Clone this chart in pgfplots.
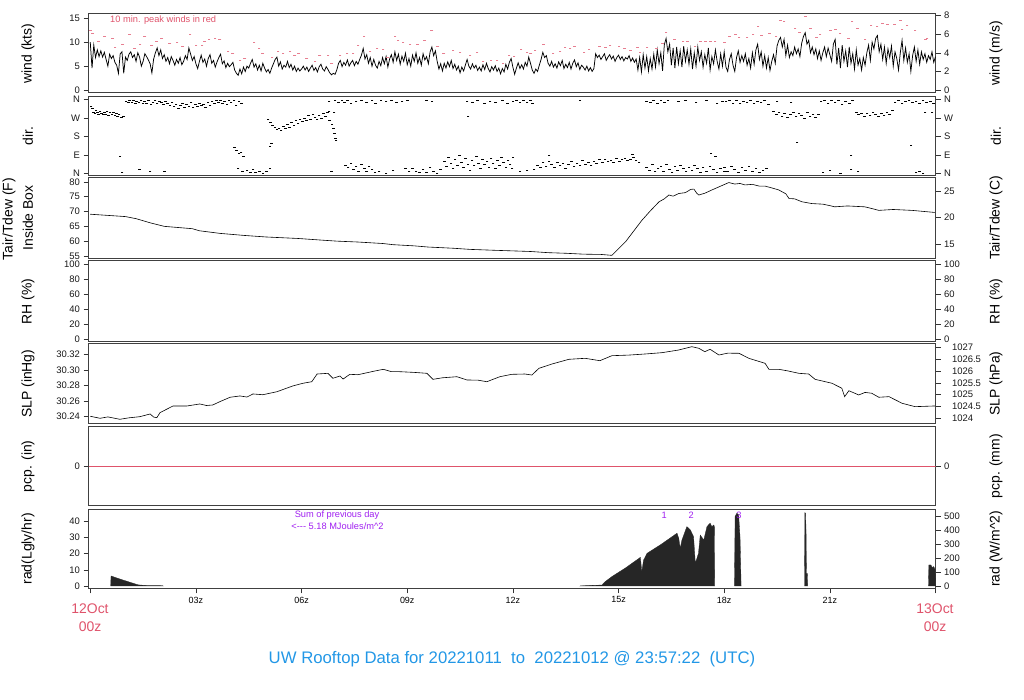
\documentclass[border=0pt]{standalone}
\usepackage{pgfplots}
\pgfplotsset{compat=1.18}
\usepackage{fontspec}
\setmainfont{Liberation Sans}
\definecolor{rred}{HTML}{DF536B}
\definecolor{rblue}{HTML}{2297E6}
\definecolor{rpurple}{HTML}{A020F0}
\newcommand{\lab}{\fontsize{14}{16}\selectfont}
\newcommand{\sm}{\fontsize{9.3}{10}\selectfont}
\pgfplotsset{
  panel/.style={scale only axis, width=847bp, xmin=-0.05, xmax=24,
    anchor=south west, axis line style={black!75, line width=1bp},
    tick align=outside, major tick length=5bp,
    every tick/.style={black!80, line width=0.6bp},
    xtick=\empty, ytick pos=left,
    yticklabel style={font=\fontsize{9.5}{10}\selectfont, black!90}},
  rpanel/.style={scale only axis, width=847bp, xmin=-0.05, xmax=24,
    anchor=south west, hide x axis, axis y line*=right,
    y axis line style={draw=none},
    tick align=outside, major tick length=5bp,
    every tick/.style={black!80, line width=0.6bp},
    yticklabel style={font=\fontsize{9.5}{10}\selectfont, black!90}},
}
\begin{document}
\begin{tikzpicture}[x=1bp,y=1bp]
\useasboundingbox (0,0) rectangle (1024,700);

% ---- wind
\begin{axis}[panel, at={(88.5bp,607bp)}, height=79bp, ymin=-0.6, ymax=15.9,
  ytick={0,5,10,15}, yticklabels={0,5,10,15}]
\addplot[black, line width=0.75bp] coordinates {
(0.00,10.0)(0.05,4.6)(0.10,9.4)(0.15,6.8)(0.20,8.4)(0.25,7.0)(0.30,8.2)(0.35,6.9)(0.40,7.9)(0.45,6.4)
(0.50,5.0)(0.55,7.5)(0.60,6.6)(0.65,7.2)(0.70,5.8)(0.75,5.2)(0.80,3.5)(0.85,7.6)(0.90,8.0)(0.95,3.5)
(1.00,6.9)(1.05,6.2)(1.10,7.5)(1.15,8.0)(1.20,6.8)(1.25,7.4)(1.30,6.0)(1.35,7.8)(1.40,6.9)(1.45,5.0)
(1.50,6.0)(1.55,7.6)(1.60,7.0)(1.65,6.3)(1.70,5.5)(1.75,3.6)(1.80,6.5)(1.85,7.8)(1.90,8.8)(1.95,7.2)
(2.00,8.4)(2.05,6.6)(2.10,7.4)(2.15,6.0)(2.20,6.8)(2.25,5.5)(2.30,7.0)(2.35,6.2)(2.40,5.2)(2.45,6.4)
(2.50,5.6)(2.55,6.8)(2.60,5.3)(2.65,6.0)(2.70,7.2)(2.75,6.4)(2.80,8.8)(2.85,7.5)(2.90,6.2)(2.95,7.0)
(3.00,5.5)(3.05,4.5)(3.10,6.0)(3.15,7.3)(3.20,5.8)(3.25,6.5)(3.30,5.0)(3.35,6.6)(3.40,7.4)(3.45,5.6)
(3.50,6.2)(3.55,4.8)(3.60,5.9)(3.65,6.8)(3.70,7.5)(3.75,5.5)(3.80,6.1)(3.85,4.7)(3.90,5.6)(3.95,4.9)
(4.00,5.3)(4.05,5.8)(4.10,4.2)(4.15,3.5)(4.20,3.1)(4.25,4.4)(4.30,3.4)(4.35,4.8)(4.40,3.9)(4.45,5.0)
(4.50,4.6)(4.55,5.6)(4.60,6.4)(4.65,4.8)(4.70,5.5)(4.75,4.2)(4.80,5.2)(4.85,4.0)(4.90,5.6)(4.95,4.6)
(5.00,3.8)(5.05,4.3)(5.10,3.5)(5.15,4.6)(5.20,5.5)(5.25,6.4)(5.30,6.9)(5.35,5.0)(5.40,5.9)(5.45,4.4)
(5.50,5.2)(5.55,4.8)(5.60,6.0)(5.65,4.7)(5.70,5.4)(5.75,4.2)(5.80,5.0)(5.85,3.9)(5.90,4.6)(5.95,4.0)
(6.00,4.4)(6.05,5.0)(6.10,4.2)(6.15,4.8)(6.20,3.9)(6.25,4.6)(6.30,5.2)(6.35,4.1)(6.40,4.7)(6.45,3.8)
(6.50,4.9)(6.55,5.4)(6.60,4.4)(6.65,4.0)(6.70,4.9)(6.75,4.3)(6.80,3.6)(6.85,3.2)(6.90,3.5)(6.95,3.3)
(7.00,4.2)(7.05,5.6)(7.10,6.2)(7.15,4.9)(7.20,5.8)(7.25,5.2)(7.30,6.3)(7.35,5.0)(7.40,5.7)(7.45,6.2)
(7.50,5.1)(7.55,6.0)(7.60,5.4)(7.65,6.4)(7.70,7.3)(7.75,8.7)(7.80,6.5)(7.85,7.4)(7.90,5.6)(7.95,6.8)
(8.00,5.0)(8.05,6.4)(8.10,5.2)(8.15,4.6)(8.20,6.0)(8.25,5.1)(8.30,6.8)(8.35,5.5)(8.40,7.0)(8.45,4.8)
(8.50,6.5)(8.55,7.4)(8.60,5.8)(8.65,8.0)(8.70,6.2)(8.75,7.5)(8.80,5.4)(8.85,7.1)(8.90,6.0)(8.95,7.7)
(9.00,5.3)(9.05,6.6)(9.10,5.0)(9.15,7.3)(9.20,6.0)(9.25,7.8)(9.30,5.6)(9.35,6.8)(9.40,5.2)(9.45,7.6)
(9.50,6.3)(9.55,7.0)(9.60,5.5)(9.65,8.0)(9.70,9.0)(9.75,7.2)(9.80,8.2)(9.85,6.0)(9.90,4.4)(9.95,5.5)
(10.00,4.0)(10.05,5.6)(10.10,4.6)(10.15,5.9)(10.20,4.9)(10.25,6.2)(10.30,4.5)(10.35,5.4)(10.40,4.2)(10.45,5.0)
(10.50,3.6)(10.55,4.8)(10.60,4.0)(10.65,5.2)(10.70,6.4)(10.75,5.0)(10.80,4.4)(10.85,5.5)(10.90,4.6)(10.95,5.2)
(11.00,4.1)(11.05,4.8)(11.10,4.0)(11.15,5.3)(11.20,4.3)(11.25,5.6)(11.30,4.5)(11.35,3.8)(11.40,4.9)(11.45,4.2)
(11.50,5.1)(11.55,3.9)(11.60,4.6)(11.65,3.4)(11.70,4.5)(11.75,3.8)(11.80,5.4)(11.85,4.4)(11.90,5.8)(11.95,6.6)
(12.00,4.8)(12.05,3.3)(12.10,4.6)(12.15,5.7)(12.20,4.5)(12.25,5.3)(12.30,4.4)(12.35,5.8)(12.40,5.0)(12.45,6.9)
(12.50,5.6)(12.55,4.2)(12.60,3.5)(12.65,4.4)(12.70,3.9)(12.75,5.2)(12.80,6.4)(12.85,7.9)(12.90,6.8)(12.95,7.2)
(13.00,5.6)(13.05,5.0)(13.10,6.0)(13.15,4.8)(13.20,5.5)(13.25,4.6)(13.30,5.9)(13.35,5.1)(13.40,6.2)(13.45,4.5)
(13.50,5.4)(13.55,4.7)(13.60,5.8)(13.65,4.4)(13.70,5.6)(13.75,6.3)(13.80,4.9)(13.85,5.7)(13.90,4.3)(13.95,5.2)
(14.00,4.8)(14.05,4.2)(14.10,5.0)(14.15,4.0)(14.20,4.7)(14.25,3.9)(14.30,4.5)(14.35,7.6)(14.40,6.8)(14.45,7.3)
(14.50,6.4)(14.55,7.0)(14.60,7.6)(14.65,6.2)(14.70,6.9)(14.75,7.4)(14.80,6.5)(14.85,7.1)(14.90,6.0)(14.95,6.8)
(15.00,7.3)(15.05,6.4)(15.10,7.0)(15.15,6.1)(15.20,6.8)(15.25,6.5)(15.30,7.2)(15.35,6.0)(15.40,6.7)(15.45,5.8)
(15.50,6.5)(15.55,4.2)(15.60,6.8)(15.65,3.8)(15.70,7.4)(15.75,4.6)(15.80,7.0)(15.85,4.0)(15.90,6.6)(15.95,4.4)
(16.00,7.5)(16.05,4.8)(16.10,8.4)(16.15,5.5)(16.20,7.8)(16.25,4.0)(16.30,9.5)(16.35,10.8)(16.40,8.0)(16.45,9.6)
(16.50,5.2)(16.55,8.8)(16.60,4.6)(16.65,9.0)(16.70,5.5)(16.75,8.2)(16.80,4.8)(16.85,9.2)(16.90,6.0)(16.95,8.4)
(17.00,5.4)(17.05,8.6)(17.10,4.4)(17.15,7.8)(17.20,5.0)(17.25,9.0)(17.30,6.2)(17.35,8.0)(17.40,4.8)(17.45,7.4)
(17.50,5.6)(17.55,8.8)(17.60,4.2)(17.65,7.0)(17.70,5.5)(17.75,8.4)(17.80,6.0)(17.85,4.4)(17.90,7.6)(17.95,5.0)
(18.00,8.0)(18.05,4.8)(18.10,3.9)(18.15,6.4)(18.20,7.6)(18.25,5.2)(18.30,3.9)(18.35,6.8)(18.40,8.2)(18.45,5.8)
(18.50,7.2)(18.55,6.0)(18.60,7.6)(18.65,5.2)(18.70,6.6)(18.75,4.6)(18.80,7.8)(18.85,5.4)(18.90,8.4)(18.95,9.6)
(19.00,6.4)(19.05,8.0)(19.10,5.0)(19.15,7.2)(19.20,4.6)(19.25,6.8)(19.30,4.1)(19.35,6.0)(19.40,7.4)(19.45,5.6)
(19.50,9.2)(19.55,10.4)(19.60,11.0)(19.65,9.0)(19.70,10.6)(19.75,7.2)(19.80,9.4)(19.85,6.8)(19.90,8.0)(19.95,7.2)
(20.00,9.0)(20.05,7.6)(20.10,8.6)(20.15,7.0)(20.20,9.8)(20.25,11.2)(20.30,12.0)(20.35,9.6)(20.40,10.4)(20.45,7.8)
(20.50,9.0)(20.55,7.4)(20.60,8.6)(20.65,6.6)(20.70,8.2)(20.75,6.2)(20.80,7.8)(20.85,9.0)(20.90,7.0)(20.95,8.8)
(21.00,7.4)(21.05,6.0)(21.10,9.6)(21.15,10.6)(21.20,5.4)(21.25,8.8)(21.30,4.6)(21.35,9.4)(21.40,6.0)(21.45,8.2)
(21.50,4.8)(21.55,9.0)(21.60,5.6)(21.65,7.6)(21.70,4.4)(21.75,8.4)(21.80,5.2)(21.85,6.6)(21.90,4.2)(21.95,6.8)
(22.00,5.2)(22.05,7.8)(22.10,9.4)(22.15,6.2)(22.20,10.0)(22.25,8.6)(22.30,10.8)(22.35,11.4)(22.40,8.0)(22.45,9.6)
(22.50,6.4)(22.55,9.0)(22.60,5.6)(22.65,8.6)(22.70,6.8)(22.75,9.2)(22.80,5.0)(22.85,8.0)(22.90,6.6)(22.95,4.2)
(23.00,7.8)(23.05,10.4)(23.10,6.2)(23.15,8.8)(23.20,5.8)(23.25,7.6)(23.30,3.9)(23.35,7.2)(23.40,9.0)(23.45,6.0)
(23.50,8.4)(23.55,5.4)(23.60,8.0)(23.65,6.4)(23.70,7.6)(23.75,5.8)(23.80,7.2)(23.85,6.4)(23.90,8.0)(23.95,5.8)
(24.00,7.0)};
\addplot[only marks, mark=-, mark size=1.4bp, rred!75, mark options={line width=0.55bp}] coordinates {
(0.00,12.5)(0.07,11.9)(0.24,10.2)(0.41,11.3)(0.64,10.8)(0.70,9.0)(0.92,9.6)(1.12,11.7)(1.26,8.7)(1.41,9.6)
(1.55,11.3)(1.75,9.4)(1.89,10.3)(2.03,10.8)(2.26,9.8)(2.46,10.0)(2.63,9.1)(2.83,11.7)(3.00,9.4)(3.17,9.4)
(3.25,10.2)(3.37,10.6)(3.54,10.8)(3.68,10.6)(3.91,8.1)(4.05,7.6)(4.25,6.3)(4.39,6.7)(4.65,10.0)(4.79,8.7)
(4.90,7.7)(5.16,6.9)(5.33,8.1)(5.47,7.7)(5.67,8.1)(5.81,7.2)(5.92,7.7)(6.15,6.7)(6.38,6.0)(6.52,7.2)
(6.75,7.2)(6.86,5.6)(7.09,7.2)(7.29,7.7)(7.46,7.7)(7.60,9.4)(7.77,11.3)(7.94,8.1)(8.14,8.7)(8.31,8.5)
(8.45,6.9)(8.65,11.3)(8.74,10.4)(8.88,10.0)(9.08,9.6)(9.30,9.6)(9.50,10.4)(9.70,12.5)(9.87,9.1)(10.04,7.6)
(10.30,8.3)(10.50,8.0)(10.78,7.2)(10.98,7.9)(11.15,6.0)(11.38,6.2)(11.55,6.3)(11.72,5.6)(11.89,7.2)
(12.03,7.0)(12.23,8.5)(12.40,7.9)(12.51,7.7)(12.63,8.3)(12.86,9.6)(13.14,7.6)(13.34,8.2)(13.48,8.9)(13.62,8.7)
(13.74,9.1)(14.02,7.9)(14.16,8.5)(14.45,9.1)(14.62,9.0)(14.76,9.3)(15.01,9.1)(15.16,8.7)(15.33,8.4)(15.53,8.9)
(15.61,7.9)(15.81,8.9)(16.07,8.7)(16.24,9.8)(16.35,12.1)(16.58,10.6)(16.83,10.3)(16.95,10.1)(17.17,9.2)(17.32,10.1)
(17.46,10.3)(17.60,10.3)(17.74,10.3)(18.00,10.0)(18.14,11.3)(18.31,11.7)(18.42,11.0)(18.65,11.0)(18.82,11.7)(18.96,13.4)
(19.05,11.4)(19.28,11.9)(19.47,11.3)(19.59,14.5)(19.70,14.3)(20.01,12.9)(20.13,12.1)(20.30,15.4)(20.44,12.9)(20.61,11.0)
(20.72,11.7)(21.01,12.4)(21.15,12.7)(21.29,11.9)(21.52,10.8)(21.63,14.3)(21.78,12.9)(22.00,10.7)(22.17,13.6)(22.34,13.4)
(22.49,14.0)(22.63,13.8)(22.83,13.8)(23.00,14.5)(23.05,12.7)(23.19,13.6)(23.42,12.4)(23.71,10.7)(23.76,10.8)};
\end{axis}
\begin{axis}[rpanel, at={(88.5bp,607bp)}, height=79bp, ymin=-0.31, ymax=8.18,
  ytick={0,2,4,6,8}, yticklabels={0,2,4,6,8}]
\end{axis}
\node[anchor=west, rred, font=\sm] at (106.7,680) {10 min. peak winds in red};

% ---- direction
\begin{axis}[panel, at={(88.5bp,524.3bp)}, height=79bp, ymin=-12, ymax=374,
  ytick={0,90,180,270,360}, yticklabels={N,E,S,W,N}]
\addplot[only marks, mark=-, mark size=1.3bp, black, mark options={line width=0.5bp}] coordinates {
(0.02,325)(0.06,318)(0.10,300)(0.13,292)(0.16,310)(0.20,296)(0.24,288)(0.28,302)(0.32,294)(0.36,286)
(0.40,298)(0.44,290)(0.48,305)(0.52,284)(0.56,296)(0.62,290)(0.66,300)(0.70,282)(0.74,294)(0.78,278)
(0.82,286)(0.88,272)(0.95,280)(0.84,84)(0.90,5)(1.40,20)(1.70,8)(2.10,12)
(1.02,352)(1.08,345)(1.12,356)(1.18,348)(1.22,358)(1.28,342)(1.32,352)(1.38,346)(1.44,356)(1.50,340)
(1.54,350)(1.60,344)(1.66,355)(1.72,338)(1.78,348)(1.84,358)(1.90,342)(1.96,352)(2.02,346)(2.08,336)
(2.14,354)(2.20,340)(2.26,332)(2.32,345)(2.38,325)(2.44,338)(2.50,318)(2.56,330)(2.62,342)(2.68,322)
(2.74,335)(2.80,328)(2.86,346)(2.92,320)(2.98,336)(3.04,326)(3.10,344)(3.16,330)(3.22,338)(3.28,322)
(3.34,348)(3.40,334)(3.46,352)(3.52,340)(3.58,356)(3.64,346)(3.70,358)(3.76,344)(3.82,352)(3.88,338)
(3.94,356)(4.00,348)(4.08,358)(4.14,330)(4.22,352)(4.30,342)
(4.10,128)(4.15,112)(4.22,96)(4.28,104)(4.35,84)
(4.20,22)(4.32,8)(4.45,15)(4.55,4)(4.62,18)(4.70,6)(4.80,12)(4.90,2)(5.00,10)(5.10,26)
(5.10,131)(5.14,146)
(5.05,262)(5.12,248)(5.18,236)(5.24,226)(5.30,214)(5.36,222)(5.42,208)(5.48,230)(5.54,218)(5.60,240)
(5.66,226)(5.72,250)(5.78,236)(5.84,258)(5.90,244)(5.96,264)(6.02,252)(6.08,270)(6.14,258)(6.20,282)
(6.26,266)(6.32,290)(6.38,274)(6.44,262)(6.50,284)(6.56,270)(6.62,292)(6.68,278)(6.74,296)(6.80,260)
(6.86,240)(6.90,220)(6.93,196)(6.96,172)(6.98,160)
(6.78,352)(6.95,358)(7.05,345)(7.15,355)(7.22,348)(7.30,358)(7.40,340)(7.55,352)(7.70,356)(7.85,348)
(8.00,358)(8.10,344)(8.25,355)(8.40,350)(8.55,358)(8.70,346)(8.85,354)(9.00,358)(6.78,305)(6.92,300)
(6.85,8)(7.25,40)(7.32,28)(7.40,50)(7.48,20)(7.55,36)(7.62,12)(7.70,44)(7.78,25)(7.85,8)(7.92,32)(8.00,18)(8.08,4)
(8.20,10)(8.40,2)(8.60,14)
(8.95,22)(9.05,8)(9.15,26)(9.25,12)(9.35,4)(9.45,18)(9.55,6)(9.65,28)(9.75,10)(9.85,2)(9.95,20)
(10.05,60)(10.12,35)(10.18,80)(10.24,48)(10.30,22)(10.36,66)(10.42,40)(10.48,90)(10.54,55)(10.60,30)
(10.66,72)(10.72,45)(10.78,15)(10.84,62)(10.90,38)(10.96,84)(11.02,50)(11.08,25)(11.14,70)
(11.20,42)(11.26,60)(11.32,30)(11.38,75)(11.44,50)(11.50,22)(11.56,65)(11.62,40)(11.68,78)(11.74,52)
(11.80,30)(11.86,62)(11.92,45)(11.98,25)
(10.70,352)(10.85,345)(11.00,358)(11.20,340)(11.35,354)(11.50,348)(11.70,356)(11.85,342)(10.73,276)
(9.55,358)(9.70,352)
(12.00,352)(12.10,358)(12.20,346)(12.30,355)(12.40,349)(12.50,356)(12.55,342)(13.90,357)
(15.80,352)(15.90,345)(16.00,358)(16.10,340)(16.20,355)(16.30,348)(16.40,356)
(16.70,350)(16.90,358)(17.20,346)(17.50,356)(17.80,344)(17.95,352)
(12.00,80)(12.20,8)(12.40,14)
(12.60,18)(12.70,40)(12.78,28)(12.86,52)(12.94,35)(13.02,60)(13.10,42)(13.18,30)(13.26,55)(13.34,38)
(13.42,48)(13.50,25)(13.58,44)(13.66,58)(13.74,36)(13.82,50)(13.90,40)(13.98,62)(14.06,46)(14.14,54)
(14.22,38)(14.30,60)(14.38,50)(14.46,66)(14.54,55)(14.62,70)(14.70,58)(14.78,64)(14.86,52)(14.94,72)
(15.02,60)(15.10,68)(15.18,75)(15.26,62)(15.34,70)(15.42,80)(15.50,65)(15.58,55)(13.03,89)(15.40,92)
(15.80,30)(15.88,15)(15.96,42)(16.04,8)(16.12,25)(16.20,36)(16.28,12)(16.36,46)(16.44,20)(16.52,4)
(16.60,32)(16.68,16)(16.76,40)(16.84,24)(16.92,8)(17.00,30)(17.08,14)(17.16,38)(17.24,22)(17.32,6)
(17.40,28)(17.50,12)(17.60,34)(17.70,18)(17.80,4)(17.90,26)(18.00,10)(17.62,100)(17.75,82)
(18.05,350)(18.15,358)(18.25,344)(18.35,355)(18.45,340)(18.55,352)(18.65,346)(18.75,358)(18.85,342)(18.95,354)
(19.05,348)(19.15,356)(19.25,336)
(19.40,305)(19.48,290)(19.56,298)(19.64,280)(19.72,294)(19.80,272)(19.88,288)(19.96,300)(20.04,276)(20.12,292)
(20.20,284)(20.28,270)(20.36,296)(20.44,280)(20.52,290)(20.60,275)(20.68,286)(19.50,352)(19.90,346)
(20.75,350)(20.85,358)(20.95,340)(21.05,355)(21.15,345)(21.25,358)(21.35,338)(21.45,352)(21.55,344)(21.65,356)
(21.75,300)(21.82,286)(21.90,295)(21.98,278)(22.06,292)(22.14,282)(22.22,300)(22.30,288)(22.38,276)(22.46,294)
(22.54,284)(22.62,298)(22.70,290)(22.78,310)
(22.85,345)(22.95,356)(23.05,340)(23.15,352)(23.25,358)(23.35,346)(23.45,354)(23.55,342)(23.65,356)(23.75,348)
(23.85,352)(23.95,340)(23.70,300)(23.90,296)
(18.00,30)(18.10,12)(18.20,36)(18.30,20)(18.40,5)(18.50,28)(18.60,15)(18.70,32)(18.80,8)(18.90,22)
(19.00,4)(19.10,16)(19.20,26)(20.80,6)(21.00,14)(21.30,2)(21.60,18)(21.80,10)(23.45,4)(23.55,8)(23.65,2)
(20.07,151)(23.30,138)(21.60,89)};
\end{axis}
\begin{axis}[rpanel, at={(88.5bp,524.3bp)}, height=79bp, ymin=-12, ymax=374,
  ytick={0,90,180,270,360}, yticklabels={N,E,S,W,N}]
\end{axis}

% ---- temperature
\begin{axis}[panel, at={(88.5bp,441.7bp)}, height=80.3bp, ymin=54.2, ymax=81.35,
  ytick={55,60,65,70,75,80}, yticklabels={55,60,65,70,75,80}]
\addplot[black, line width=0.6bp] coordinates {
(0,69.1)(0.5,68.7)(1.0,68.3)(1.3,67.6)(1.7,66.2)(2.1,65.0)(2.6,64.5)(2.9,64.2)(3.1,63.5)(3.7,62.6)
(4.4,61.9)(5.0,61.4)(5.9,60.9)(6.5,60.4)(7.0,60.0)(7.6,59.7)(8.3,59.2)(8.6,58.8)(9.2,58.4)(9.6,58.0)
(10.3,57.6)(10.8,57.2)(11.5,56.9)(12.0,56.7)(12.5,56.5)(13.0,56.1)(13.5,55.9)(14.0,55.6)(14.5,55.5)(14.81,55.2)
(15.2,59.8)(15.66,67.0)(15.9,70.2)(16.15,73.3)(16.3,74.3)(16.43,75.6)(16.55,75.2)(16.71,76.1)(16.9,76.4)(17.05,77.5)
(17.14,77.6)(17.22,76.2)(17.28,75.6)(17.45,76.2)(17.65,77.3)(17.9,78.6)(18.13,79.8)(18.3,79.3)(18.45,79.5)(18.59,79.0)
(18.8,79.2)(19.0,78.6)(19.16,78.6)(19.35,78.0)(19.55,77.3)(19.75,76.0)(19.84,74.4)(20.0,74.3)(20.21,73.3)(20.49,72.7)
(20.8,72.5)(21.0,72.0)(21.14,71.6)(21.5,71.9)(21.99,71.6)(22.2,71.0)(22.39,70.4)(22.8,70.7)(23.33,70.4)(23.7,70.0)
(23.98,69.7)};
\end{axis}
\begin{axis}[rpanel, at={(88.5bp,441.7bp)}, height=80.3bp, ymin=12.33, ymax=27.42,
  ytick={15,20,25}, yticklabels={15,20,25}]
\end{axis}

% ---- RH
\begin{axis}[panel, at={(88.5bp,358.3bp)}, height=80.7bp, ymin=-3.6, ymax=104.4,
  ytick={0,20,40,60,80,100}, yticklabels={0,20,40,60,80,100}]
\end{axis}
\begin{axis}[rpanel, at={(88.5bp,358.3bp)}, height=80.7bp, ymin=-3.6, ymax=104.4,
  ytick={0,20,40,60,80,100}, yticklabels={0,20,40,60,80,100}]
\end{axis}

% ---- SLP
\begin{axis}[panel, at={(88.5bp,276.7bp)}, height=79.3bp, ymin=30.2309, ymax=30.3339,
  ytick={30.24,30.26,30.28,30.30,30.32}, yticklabels={30.24,30.26,30.28,30.30,30.32}]
\addplot[black, line width=0.6bp] coordinates {
(0,30.240)(0.28,30.2374)(0.5,30.2392)(0.84,30.2361)(1.1,30.2380)(1.41,30.2395)(1.70,30.2430)(1.80,30.2390)(1.89,30.2382)(1.98,30.2447)
(2.35,30.2534)(2.75,30.2534)(3.11,30.2560)(3.30,30.2540)(3.48,30.2547)(3.68,30.2590)(3.97,30.2647)(4.25,30.2664)(4.45,30.2650)(4.62,30.2690)
(4.9,30.2680)(5.30,30.2719)(5.75,30.2794)(6.04,30.2829)(6.29,30.2849)(6.44,30.2949)(6.75,30.2958)(6.89,30.2894)(7.09,30.2923)(7.18,30.2884)
(7.37,30.2945)(7.60,30.2940)(7.86,30.2966)(8.10,30.2990)(8.32,30.3010)(8.55,30.2980)(8.80,30.2979)(9.20,30.2970)(9.56,30.2958)(9.73,30.2880)
(10.0,30.2900)(10.41,30.2914)(10.70,30.2871)(11.00,30.2870)(11.26,30.2849)(11.63,30.2914)(11.97,30.2945)(12.34,30.2949)(12.54,30.2936)(12.74,30.3023)
(13.11,30.3079)(13.59,30.3140)(14.05,30.3153)(14.47,30.3122)(14.81,30.3187)(15.3,30.3195)(15.75,30.3209)(16.23,30.3226)(16.71,30.3261)(17.08,30.3304)
(17.28,30.3283)(17.45,30.3239)(17.60,30.3270)(17.85,30.3196)(18.10,30.3220)(18.42,30.3218)(18.70,30.3153)(19.16,30.3088)(19.27,30.3010)(19.55,30.3010)
(19.80,30.2990)(20.12,30.2958)(20.40,30.2949)(20.58,30.2880)(21.06,30.2829)(21.34,30.2764)(21.42,30.2655)(21.54,30.2732)(21.82,30.2677)(22.00,30.2710)
(22.19,30.2699)(22.39,30.2647)(22.68,30.2655)(23.05,30.2569)(23.42,30.2525)(23.98,30.2534)};
\end{axis}
\begin{axis}[rpanel, at={(88.5bp,276.7bp)}, height=79.3bp, ymin=1023.77, ymax=1027.16,
  ytick={1024,1024.5,1025,1025.5,1026,1026.5,1027},
  yticklabels={1024,1024.5,1025,1025.5,1026,1026.5,1027},
  yticklabel style={xshift=8bp}]
\end{axis}

% ---- precipitation
\begin{axis}[panel, at={(88.5bp,194bp)}, height=79.3bp, ymin=-1, ymax=1,
  ytick={0}, yticklabels={0}]
\addplot[rred, line width=0.6bp] coordinates {(-0.05,0)(24,0)};
\end{axis}
\begin{axis}[rpanel, at={(88.5bp,194bp)}, height=79.3bp, ymin=-1, ymax=1,
  ytick={0}, yticklabels={0}]
\end{axis}

% ---- radiation
\begin{axis}[panel, at={(88.5bp,111.7bp)}, height=79bp, ymin=-1.42, ymax=47.4,
  ytick={0,10,20,30,40}, yticklabels={0,10,20,30,40},
  xtick={0,3,...,24}, xtick pos=bottom,
  xticklabels={,03z,06z,09z,12z,15z,18z,21z,},
  xticklabel style={font=\fontsize{9}{10}\selectfont}]
\addplot[fill=black!85, draw=black!85, line width=0.3bp] coordinates {
(0.58,0)(0.59,6.2)(0.8,4.6)(1.0,3.2)(1.2,1.8)(1.36,0.7)(1.6,0.3)(2.06,0.2)(2.07,0)} \closedcycle;
\addplot[fill=black!85, draw=black!85, line width=0.3bp] coordinates {
(13.91,0)(13.92,0.1)(14.53,0.6)(14.62,2.7)(14.81,5.8)(15.2,11.2)(15.62,17.7)(15.66,8.8)(15.71,16.0)(15.76,18.0)
(15.81,20.2)(16.2,25.6)(16.66,32.6)(16.71,29.5)(16.75,23.3)(16.80,28.4)(16.94,36.7)(17.04,34.6)(17.13,30.5)(17.18,14.0)
(17.27,20.2)(17.32,31.5)(17.42,28.4)(17.51,36.7)(17.60,38.8)(17.65,36.7)(17.70,37.7)(17.72,37.0)(17.73,0)} \closedcycle;
\addplot[fill=black!85, draw=black!85, line width=0.3bp] coordinates {
(18.29,0)(18.30,22)(18.31,43)(18.36,45)(18.41,44)(18.45,30)(18.47,10)(18.48,0)} \closedcycle;
\addplot[fill=black!85, draw=black!85, line width=0.3bp] coordinates {
(20.28,0)(20.29,45.3)(20.31,45.0)(20.325,33)(20.335,7.8)(20.36,7.8)(20.37,0)} \closedcycle;
\addplot[fill=black!85, draw=black!85, line width=0.3bp] coordinates {
(23.80,0)(23.81,13)(23.87,13)(23.90,11.5)(23.95,12)(23.99,10)(24,0)} \closedcycle;
\end{axis}
\begin{axis}[rpanel, at={(88.5bp,111.7bp)}, height=79bp, ymin=-16.5, ymax=551,
  ytick={0,100,200,300,400,500}, yticklabels={0,100,200,300,400,500}]
\end{axis}
\begin{scope}[font=\sm, rpurple]
\node at (337,185) {Sum of previous day};
\node at (337.5,174.3) {<-{}-{}- 5.18 MJoules/m\textasciicircum 2};
\node at (664.3,185) {1};
\node at (691.3,185) {2};
\node at (739,185) {3};
\end{scope}

% ---- left and right axis labels
\begin{scope}[font=\lab]
\node[rotate=90] at (28,646.5) {wind (kts)};
\node[rotate=90] at (28,564) {dir.};
\node[rotate=90] at (9,481) {Tair/Tdew (F)};
\node[rotate=90] at (28,482) {Inside Box};
\node[rotate=90] at (28,398.7) {RH (\%)};
\node[rotate=90] at (28,316.3) {SLP (inHg)};
\node[rotate=90] at (28,233.7) {pcp. (in)};
\node[rotate=90] at (28,151.2) {rad(Lgly/hr)};
\node[rotate=90] at (996,646.5) {wind (m/s)};
\node[rotate=90] at (996,564) {dir.};
\node[rotate=90] at (996,482) {Tair/Tdew (C)};
\node[rotate=90] at (996,398.7) {RH (\%)};
\node[rotate=90] at (996,316.3) {SLP (hPa)};
\node[rotate=90] at (996,233.7) {pcp. (mm)};
\node[rotate=90] at (996,151.2) {rad (W/m\textasciicircum 2)};
\node[rred] at (90,91) {12Oct};
\node[rred] at (90,73) {00z};
\node[rred] at (935,91) {13Oct};
\node[rred] at (935,73) {00z};
\end{scope}
\node[rblue, font=\fontsize{16.8}{18}\selectfont] at (512,40.5)
  {UW Rooftop Data for 20221011\ \ to\ \ 20221012 @ 23:57:22\ \ (UTC)};
\end{tikzpicture}
\end{document}
